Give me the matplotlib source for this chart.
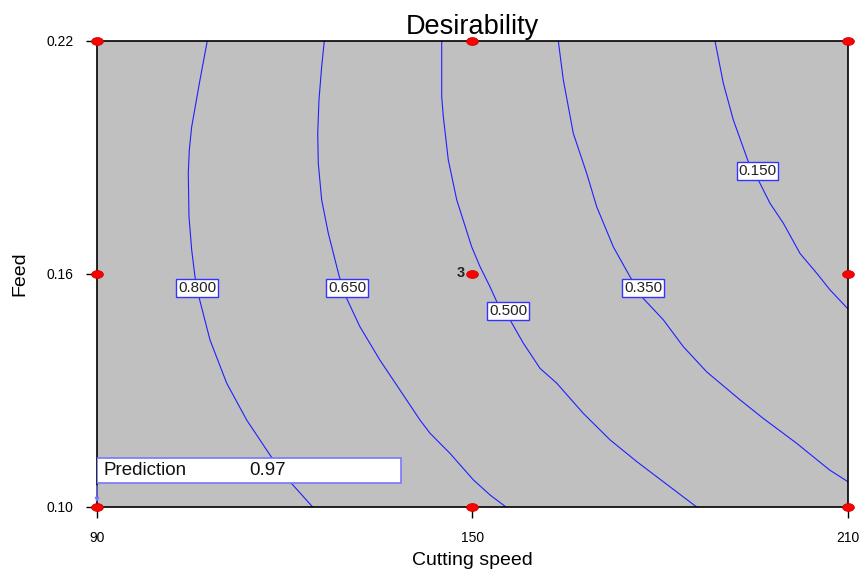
import matplotlib
matplotlib.use("Agg")
from matplotlib import pyplot as plt
from matplotlib.path import Path
from matplotlib.transforms import Affine2D

plt.rcParams['font.family'] = ['Liberation Sans', 'DejaVu Sans']

# contour lines: (cutting speed, feed) pairs
levels = ["0.800", "0.650", "0.500", "0.350", "0.150"]

speed_800 = [107.62, 106.46, 105.13, 104.75, 104.59, 104.70, 105.13, 105.66, 106.35, 108.06, 110.72, 113.92, 117.64, 120.84, 124.46]
feed_800 = [0.2200, 0.2100, 0.1979, 0.1919, 0.1860, 0.1748, 0.1662, 0.1593, 0.1537, 0.1430, 0.1319, 0.1224, 0.1134, 0.1065, 0.1000]

speed_650 = [126.32, 125.90, 125.47, 125.27, 125.36, 125.90, 126.96, 128.72, 129.90, 132.02, 135.22, 138.42, 141.61, 143.21, 146.41, 150.13, 152.80, 155.35]
feed_650 = [0.2200, 0.2134, 0.2048, 0.1962, 0.1885, 0.1791, 0.1705, 0.1593, 0.1537, 0.1464, 0.1378, 0.1301, 0.1224, 0.1190, 0.1138, 0.1070, 0.1031, 0.1000]

speed_500 = [145.08, 145.08, 145.34, 146.13, 147.48, 149.87, 151.20, 152.80, 153.87, 155.99, 158.12, 160.79, 163.45, 167.71, 171.97, 176.24, 180.49, 185.82]
feed_500 = [0.2200, 0.2057, 0.2005, 0.1894, 0.1791, 0.1670, 0.1619, 0.1567, 0.1529, 0.1482, 0.1422, 0.1357, 0.1319, 0.1241, 0.1173, 0.1117, 0.1065, 0.1000]

speed_350 = [163.71, 164.51, 166.11, 168.25, 169.85, 172.50, 175.17, 177.29, 180.49, 183.68, 187.42, 192.74, 196.47, 201.80, 207.08, 210.00]
feed_350 = [0.2200, 0.2100, 0.1962, 0.1859, 0.1773, 0.1670, 0.1593, 0.1537, 0.1482, 0.1413, 0.1348, 0.1276, 0.1228, 0.1164, 0.1095, 0.1065]

speed_150 = [188.75, 190.08, 191.67, 194.07, 195.67, 197.54, 199.66, 202.33, 205.00, 207.13, 210.00]
feed_150 = [0.2200, 0.2091, 0.1997, 0.1889, 0.1842, 0.1782, 0.1731, 0.1653, 0.1602, 0.1559, 0.1510]

lines = [(speed_800, feed_800), (speed_650, feed_650), (speed_500, feed_500),
         (speed_350, feed_350), (speed_150, feed_150)]

# where each level label sits
label_speed = [105.98, 129.95, 155.67, 177.24, 195.54]
label_feed = [0.1564, 0.1564, 0.1505, 0.1564, 0.1865]

# design points
design_speed = [90, 90, 90, 150, 150, 150, 210, 210, 210]
design_feed = [0.10, 0.16, 0.22, 0.10, 0.16, 0.22, 0.10, 0.16, 0.22]

x_ticks = [90, 150, 210]
y_ticks = [0.10, 0.16, 0.22]
prediction = 0.97

# flattened circle as the design point marker
oval = Path.unit_circle().transformed(Affine2D().scale(1.5, 1.0))

fig = plt.figure(figsize=(8.59, 5.71), dpi=100)
ax = fig.add_axes([0.1129, 0.1121, 0.8743, 0.8161])
ax.set_facecolor("#c0c0c0")

for (sx, fy) in lines:
    ax.plot(sx, fy, color="#2020ff", lw=0.8, zorder=2)

for lvl, lx, ly in zip(levels, label_speed, label_feed):
    ax.text(lx, ly, lvl, ha="center", va="center", fontsize=11, color="#222222", zorder=4,
            bbox=dict(boxstyle="square,pad=0.12", fc="white", ec="#3333ff", lw=1))

ax.plot(design_speed, design_feed, marker=oval, ls="none", color="red", mec="#c00000", mew=0.5,
        markersize=8.5, clip_on=False, zorder=6)
ax.text(148.8, 0.1603, "3", ha="right", va="center", fontsize=10.5, fontweight="bold", color="#222222")

# prediction flag
ax.add_patch(plt.Rectangle((90, 0.1062), 48.6, 0.0064, fc="white", ec="#7777ff", lw=1.2, zorder=4))
ax.text(91.0, 0.1093, "Prediction", ha="left", va="center", fontsize=13.5, color="#111111", zorder=5)
ax.text(114.4, 0.1093, "%.2f" % prediction, ha="left", va="center", fontsize=13.5, color="#111111", zorder=5)
ax.annotate("", xy=(90, 0.1005), xytext=(90, 0.1062),
            arrowprops=dict(arrowstyle="-|>", color="#7777ff", lw=1, mutation_scale=6), zorder=5)

ax.set_xlim(90, 210)
ax.set_ylim(0.10, 0.22)
ax.set_xticks(x_ticks)
ax.set_xticklabels([str(v) for v in x_ticks])
ax.set_yticks(y_ticks)
ax.set_yticklabels(["%.2f" % v for v in y_ticks])
ax.tick_params(direction="out", length=8, width=1, labelsize=10, pad=9)
for sp in ax.spines.values():
    sp.set_linewidth(1.2)

ax.set_title("Desirability", fontsize=19.5, pad=5)
ax.set_xlabel("Cutting speed", fontsize=14, labelpad=5)
ax.set_ylabel("Feed", fontsize=14, labelpad=13)

plt.savefig("out.png", dpi=100)
